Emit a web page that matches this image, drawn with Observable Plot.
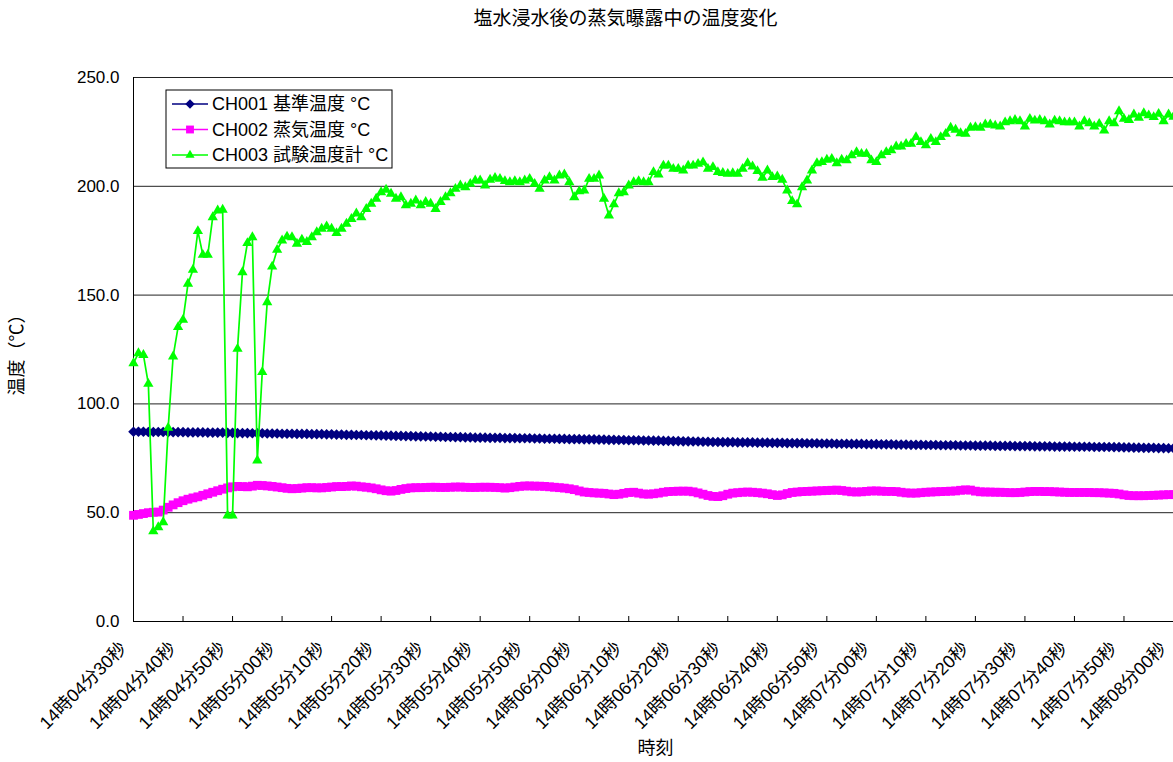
<!DOCTYPE html>
<html lang="ja">
<head>
<meta charset="utf-8">
<title>塩水浸水後の蒸気曝露中の温度変化</title>
<script src="https://cdn.jsdelivr.net/npm/d3@7"></script>
<script src="https://cdn.jsdelivr.net/npm/@observablehq/plot@0.6"></script>
<style>
  html, body { margin: 0; padding: 0; background: #fff; }
  #chart svg { display: block; }
</style>
</head>
<body>
<div id="chart"></div>
<script>
// Sampling: one reading per second from 14:04:30 to 14:08:00
const seconds = d3.range(0, 211);

const xTickLabels = [
  "14時04分30秒", "14時04分40秒", "14時04分50秒", "14時05分00秒", "14時05分10秒",
  "14時05分20秒", "14時05分30秒", "14時05分40秒", "14時05分50秒", "14時06分00秒",
  "14時06分10秒", "14時06分20秒", "14時06分30秒", "14時06分40秒", "14時06分50秒",
  "14時07分00秒", "14時07分10秒", "14時07分20秒", "14時07分30秒", "14時07分40秒",
  "14時07分50秒", "14時08分00秒"
];
const xTicks = d3.range(0, 211, 10);
const yTicks = [0, 50, 100, 150, 200, 250];

const seriesNames = ["CH001 基準温度 °C", "CH002 蒸気温度 °C", "CH003 試験温度計 °C"];

// CH001 reference temperature (°C)
const ch001 = [
  87.2, 87.2, 87.2, 87.1, 87.1, 87.1, 87.1, 87.0, 87.0, 87.0,
  87.0, 86.9, 86.9, 86.9, 86.9, 86.8, 86.8, 86.8, 86.8, 86.7,
  86.7, 86.6, 86.6, 86.6, 86.5, 86.5, 86.5, 86.4, 86.4, 86.4,
  86.3, 86.3, 86.3, 86.2, 86.2, 86.2, 86.1, 86.1, 86.1, 86.0,
  86.0, 85.9, 85.9, 85.8, 85.8, 85.7, 85.7, 85.6, 85.6, 85.5,
  85.5, 85.4, 85.4, 85.3, 85.3, 85.2, 85.2, 85.1, 85.1, 85.0,
  85.0, 84.9, 84.9, 84.8, 84.8, 84.7, 84.7, 84.6, 84.6, 84.5,
  84.5, 84.5, 84.4, 84.4, 84.4, 84.3, 84.3, 84.3, 84.2, 84.2,
  84.2, 84.1, 84.1, 84.0, 84.0, 84.0, 83.9, 83.9, 83.8, 83.8,
  83.8, 83.7, 83.7, 83.7, 83.6, 83.6, 83.5, 83.5, 83.4, 83.4,
  83.3, 83.3, 83.3, 83.2, 83.2, 83.1, 83.1, 83.0, 83.0, 82.9,
  82.9, 82.8, 82.8, 82.7, 82.7, 82.6, 82.6, 82.5, 82.5, 82.4,
  82.4, 82.4, 82.3, 82.3, 82.3, 82.3, 82.2, 82.2, 82.2, 82.1,
  82.1, 82.1, 82.0, 82.0, 82.0, 82.0, 81.9, 81.9, 81.9, 81.8,
  81.8, 81.8, 81.7, 81.7, 81.7, 81.6, 81.6, 81.6, 81.5, 81.5,
  81.5, 81.4, 81.4, 81.4, 81.3, 81.3, 81.3, 81.2, 81.2, 81.2,
  81.1, 81.1, 81.1, 81.0, 81.0, 81.0, 81.0, 80.9, 80.9, 80.9,
  80.8, 80.8, 80.8, 80.8, 80.7, 80.7, 80.7, 80.7, 80.6, 80.6,
  80.6, 80.6, 80.5, 80.5, 80.5, 80.5, 80.4, 80.4, 80.4, 80.4,
  80.3, 80.3, 80.3, 80.3, 80.2, 80.2, 80.2, 80.2, 80.1, 80.1,
  80.0, 80.0, 79.9, 79.9, 79.8, 79.8, 79.8, 79.7, 79.7, 79.6,
  79.6
];

// CH002 steam temperature (°C)
const ch002 = [
  48.8, 49.2, 49.6, 50.0, 50.2, 50.3, 51.2, 52.5, 53.6, 54.6,
  55.5, 56.2, 56.8, 57.3, 58.0, 58.7, 59.4, 60.1, 60.8, 61.4,
  61.9, 62.1, 62.0, 61.9, 62.2, 62.6, 62.5, 62.3, 62.1, 61.8,
  61.5, 61.2, 61.0, 61.1, 61.3, 61.5, 61.5, 61.4, 61.4, 61.6,
  61.8, 62.0, 62.0, 62.1, 62.3, 62.2, 61.9, 61.7, 61.4, 61.0,
  60.5, 60.1, 59.9, 60.2, 60.7, 61.1, 61.4, 61.5, 61.5, 61.6,
  61.7, 61.7, 61.6, 61.6, 61.7, 61.8, 61.8, 61.7, 61.6, 61.6,
  61.7, 61.7, 61.7, 61.6, 61.5, 61.3, 61.5, 61.8, 62.1, 62.3,
  62.3, 62.2, 62.2, 62.1, 61.9, 61.7, 61.5, 61.3, 61.0, 60.6,
  60.0, 59.5, 59.3, 59.1, 59.0, 58.9, 58.6, 58.3, 58.5, 58.9,
  59.3, 59.4, 59.0, 58.6, 58.5, 58.7, 59.0, 59.4, 59.7, 59.8,
  59.9, 59.9, 59.9, 59.6, 59.1, 58.5, 57.9, 57.5, 57.4, 57.8,
  58.5, 59.0, 59.2, 59.4, 59.5, 59.4, 59.2, 59.0, 58.7, 58.3,
  57.9, 58.2, 58.8, 59.3, 59.5, 59.7, 59.8, 59.9, 60.0, 60.1,
  60.2, 60.3, 60.4, 60.2, 59.9, 59.6, 59.5, 59.6, 59.8, 60.0,
  60.0, 59.9, 59.8, 59.8, 59.7, 59.4, 59.1, 59.0, 59.0, 59.2,
  59.4, 59.5, 59.6, 59.7, 59.8, 59.9, 60.0, 60.3, 60.5, 60.4,
  59.9, 59.6, 59.5, 59.5, 59.4, 59.4, 59.3, 59.2, 59.2, 59.3,
  59.5, 59.7, 59.8, 59.8, 59.7, 59.7, 59.6, 59.5, 59.4, 59.3,
  59.3, 59.3, 59.3, 59.3, 59.2, 59.2, 59.1, 59.0, 58.9, 58.6,
  58.2, 57.9, 57.8, 57.8, 57.8, 57.9, 58.0, 58.1, 58.2, 58.3,
  58.3
];

// CH003 test thermometer (°C)
const ch003 = [
  118.7, 123.3, 122.5, 109.2, 41.5, 43.3, 45.6, 89.0, 121.8, 135.3,
  138.6, 155.2, 161.6, 179.4, 168.5, 168.5, 185.8, 188.9, 189.2, 48.7,
  48.7, 125.3, 160.5, 173.9, 176.6, 74.0, 114.6, 146.7, 163.1, 170.8,
  175.1, 176.9, 176.6, 173.6, 175.5, 174.4, 176.6, 178.9, 180.5, 181.6,
  180.5, 178.5, 180.5, 182.8, 185.0, 187.5, 185.8, 189.6, 192.0, 194.3,
  197.3, 198.4, 196.6, 194.3, 195.0, 191.3, 192.0, 193.5, 191.3, 192.8,
  192.0, 189.6, 192.8, 195.0, 196.8, 198.8, 200.4, 199.6, 201.1, 202.7,
  202.7, 200.4, 203.0, 203.9, 203.4, 202.4, 201.9, 202.4, 201.9, 202.7,
  203.4, 201.1, 198.8, 202.7, 204.2, 202.7, 205.0, 205.4, 201.9, 195.0,
  197.7, 198.1, 203.4, 203.4, 205.0, 194.3, 186.6, 191.7, 196.8, 197.3,
  200.4, 201.9, 202.4, 201.9, 201.9, 206.5, 205.4, 209.5, 209.5, 208.0,
  208.0, 207.3, 209.5, 209.5, 210.3, 211.0, 208.0, 208.8, 206.5, 206.1,
  205.7, 206.0, 205.7, 208.0, 210.6, 209.1, 207.0, 203.9, 207.3, 204.2,
  204.5, 203.0, 198.1, 193.2, 191.7, 199.6, 202.7, 207.3, 210.6, 211.1,
  212.2, 212.6, 210.6, 212.2, 211.9, 214.2, 215.7, 214.9, 214.9, 211.9,
  211.1, 214.2, 215.7, 216.5, 218.3, 218.3, 219.5, 219.5, 222.6, 220.3,
  218.8, 221.8, 220.3, 222.6, 224.1, 226.9, 226.0, 224.4, 224.1, 226.9,
  227.2, 226.9, 228.4, 228.4, 227.9, 227.5, 229.4, 229.9, 230.5, 229.9,
  227.5, 231.0, 230.2, 230.5, 229.9, 228.4, 230.2, 229.9, 229.4, 229.4,
  229.4, 227.5, 229.9, 229.0, 227.5, 228.7, 225.6, 229.9, 229.0, 234.5,
  231.0, 230.5, 233.0, 231.5, 233.6, 232.6, 231.8, 233.3, 229.9, 233.0,
  232.0
];

const seriesValues = [ch001, ch002, ch003];
const seriesColors = ["#000080", "#ff00ff", "#00ff00"];
const seriesSymbols = ["diamond2", "square2", "triangle2"];
const d3Symbols = [d3.symbolDiamond2, d3.symbolSquare2, d3.symbolTriangle2];
const seriesR = [4.8, 5.6, 4.9];

const FONT = '"Liberation Sans", Arial, "Noto Sans CJK JP", sans-serif';

const rows = seriesValues.map((vals) => vals.map((v, i) => ({t: seconds[i], v})));

const seriesMarks = rows.flatMap((data, k) => [
  Plot.line(data, {x: "t", y: "v", stroke: seriesColors[k], strokeWidth: 1.7}),
  Plot.dot(data, {x: "t", y: "v", symbol: seriesSymbols[k], r: seriesR[k],
                  fill: seriesColors[k], stroke: "none"})
]);

const chart = Plot.plot({
  width: 1173,
  height: 762,
  marginLeft: 133,
  marginRight: 0,
  marginTop: 77,
  marginBottom: 141,
  style: {fontFamily: FONT, fontSize: "17px", color: "#000", background: "#fff"},
  x: {type: "linear", domain: [0, 210]},
  y: {type: "linear", domain: [0, 250]},
  marks: [
    Plot.gridY(yTicks.filter(d => d > 0), {stroke: "#222", strokeOpacity: 1, strokeWidth: 1}),
    Plot.axisY(yTicks, {tickSize: 0, tickPadding: 14, tickFormat: d => d.toFixed(1),
                        label: null, fontSize: 17}),
    Plot.axisX(xTicks, {tickSize: 5, dy: -5, tickFormat: () => "", label: null, stroke: "#000"}),
    Plot.axisX(xTicks, {tickSize: 0, tickPadding: 0, tickRotate: -45, dx: -10, dy: 24,
                        tickFormat: d => xTickLabels[d / 10], label: null, fontSize: 18}),
    Plot.ruleX([0], {stroke: "#000"}),
    Plot.ruleY([0], {stroke: "#000"}),
    ...seriesMarks,
    Plot.text(["塩水浸水後の蒸気曝露中の温度変化"], {frameAnchor: "top", textAnchor: "middle",
                                                 lineAnchor: "middle", dx: -28, dy: -59, fontSize: 19}),
    Plot.text(["温度（℃）"], {frameAnchor: "left", textAnchor: "middle", lineAnchor: "middle",
                            rotate: -90, dx: -116, dy: 1, fontSize: 18}),
    Plot.text(["時刻"], {frameAnchor: "bottom", textAnchor: "middle", lineAnchor: "middle",
                       dx: 2, dy: 127, fontSize: 18})
  ]
});

document.getElementById("chart").appendChild(chart);

// Legend box in the upper-left of the plot area
const svg = d3.select(chart);
const legend = svg.append("g").attr("transform", "translate(166,90)");
legend.append("rect")
  .attr("width", 226).attr("height", 78)
  .attr("fill", "#fff").attr("stroke", "#000").attr("stroke-width", 1);
seriesNames.forEach((name, k) => {
  const cy = 14 + k * 25.5;
  legend.append("line")
    .attr("x1", 6).attr("x2", 42).attr("y1", cy).attr("y2", cy)
    .attr("stroke", seriesColors[k]).attr("stroke-width", 1.6);
  legend.append("path")
    .attr("transform", `translate(24,${cy})`)
    .attr("d", d3.symbol(d3Symbols[k], Math.PI * seriesR[k] * seriesR[k] * 0.8)())
    .attr("fill", seriesColors[k]);
  legend.append("text")
    .attr("x", 46).attr("y", cy).attr("dy", "0.35em")
    .attr("text-anchor", "start")
    .style("font-family", FONT).style("font-size", "18px").attr("fill", "#000")
    .text(name);
});
</script>
</body>
</html>
